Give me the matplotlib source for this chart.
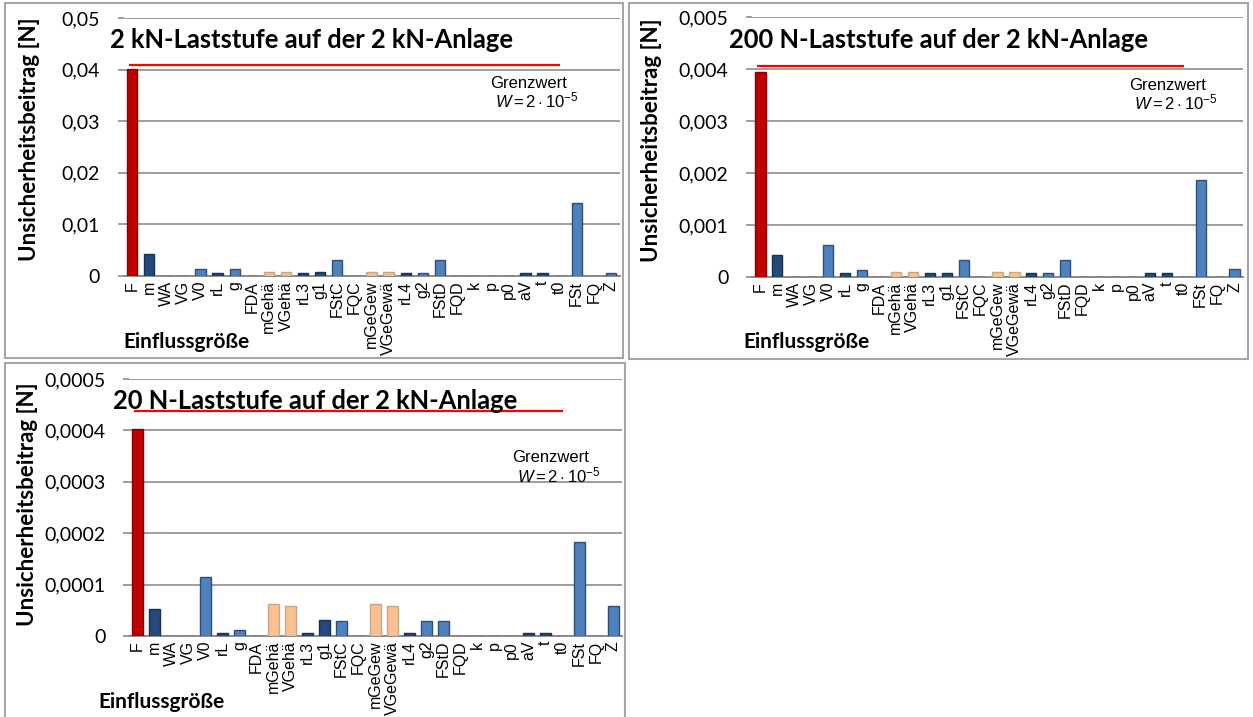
import matplotlib
matplotlib.use("Agg")
import matplotlib.pyplot as plt
from matplotlib.patches import Rectangle
from matplotlib.ticker import FuncFormatter, MultipleLocator

# Einflussgrößen (x-Achse)
categories = ['F', 'm', 'WA', 'VG', 'V0', 'rL', 'g', 'FDA', 'mGehä', 'VGehä',
              'rL3', 'g1', 'FStC', 'FQC', 'mGeGew', 'VGeGewä', 'rL4', 'g2',
              'FStD', 'FQD', 'k', 'p', 'p0', 'aV', 't', 't0', 'FSt', 'FQ', 'Z']
# Farbgruppe je Einflussgröße: r=rot, n=dunkelblau, b=blau, p=pfirsich
groups = ['r', 'n', 'b', 'b', 'b', 'n', 'b', 'b', 'p', 'p',
          'n', 'n', 'b', 'b', 'p', 'p', 'n', 'b',
          'b', 'b', 'b', 'b', 'b', 'n', 'n', 'b', 'b', 'b', 'b']

# Unsicherheitsbeiträge [N]
vals_2kN = [0.0402, 0.0042, 0, 0, 0.0013, 0.0006, 0.0013, 0, 0.0007, 0.0007,
            0.0006, 0.0007, 0.0031, 0, 0.0007, 0.0007, 0.0006, 0.0006,
            0.0031, 0, 0, 0, 0, 0.0006, 0.0006, 0, 0.0141, 0, 0.0006]
vals_200N = [0.00395, 0.00043, 0, 0, 0.00061, 0.00007, 0.00014, 0, 0.0001, 0.0001,
             0.00007, 0.00007, 0.00032, 0, 0.0001, 0.0001, 0.00007, 0.00007,
             0.00032, 0, 0, 0, 0, 0.00007, 0.00007, 0, 0.00187, 0, 0.00015]
vals_20N = [0.000403, 0.000052, 0, 0, 0.000115, 0.000005, 0.000012, 0, 0.000062, 0.000058,
            0.000005, 0.000031, 0.00003, 0, 0.000062, 0.000058, 0.000005, 0.00003,
            0.00003, 0, 0, 0, 0, 0.000005, 0.000005, 0, 0.000183, 0, 0.000058]

titles = ['2 kN-Laststufe auf der 2 kN-Anlage',
          '200 N-Laststufe auf der 2 kN-Anlage',
          '20 N-Laststufe auf der 2 kN-Anlage']
y_max = [0.05, 0.005, 0.0005]
y_step = [0.01, 0.001, 0.0001]
decimals = [2, 3, 4]
# rote Linie (Grenzwert)
limit_vals = [0.0409, 0.00406, 0.000438]
limit_span = (-0.2, 25.0)

face = {'r': '#C00000', 'n': '#25497A', 'b': '#4F81BD', 'p': '#FAC090'}
edge = {'r': '#8A0000', 'n': '#17324F', 'b': '#2E4F78', 'p': '#C4A88C'}

W, H = 1253, 717
plt.rcParams['mathtext.fontset'] = 'custom'
plt.rcParams['mathtext.rm'] = 'Liberation Sans'
plt.rcParams['mathtext.it'] = 'Liberation Sans:italic'

fig = plt.figure(figsize=(W / 100, H / 100), dpi=100)


def fx(px):
    return px / W


def fy(py):
    return 1 - py / H


# Panel-Layout in Pixeln: Achsen (links, oben, rechts, unten), Rahmen, Texte
panels = [
    dict(ax=(123.5, 18, 619.5, 276), box=(5, 3, 623, 358), title=(110, 48),
         ylab=(30, 139), xlab=(123, 342), grenz=(490, 83)),
    dict(ax=(752, 17, 1243, 277), box=(629, 3, 1248, 359), title=(729, 48),
         ylab=(652, 140), xlab=(743, 342), grenz=(1129, 85)),
    dict(ax=(129, 379, 622, 636), box=(5, 363, 625, 722), title=(113, 409),
         ylab=(28, 504), xlab=(98, 702), grenz=(512, 458)),
]
all_vals = [vals_2kN, vals_200N, vals_20N]

for i, (pan, vals) in enumerate(zip(panels, all_vals)):
    l, t, r, b = pan['ax']
    ax = fig.add_axes([fx(l), fy(b), (r - l) / W, (b - t) / H])
    x = range(len(categories))
    ax.bar(x, vals, width=0.6, color=[face[g] for g in groups],
           edgecolor=[edge[g] for g in groups], linewidth=1.0, zorder=3)
    ax.hlines(limit_vals[i], limit_span[0], limit_span[1], color='#FF0000',
              linewidth=1.6, zorder=4)
    ax.set_xlim(-0.5, len(categories) - 0.5)
    ax.set_ylim(0, y_max[i])
    ax.yaxis.set_major_locator(MultipleLocator(y_step[i]))
    d = decimals[i]
    ax.yaxis.set_major_formatter(FuncFormatter(
        lambda v, p, d=d: '0' if abs(v) < 1e-12 else f'{v:.{d}f}'.replace('.', ',')))
    ax.grid(axis='y', color='#8C8C8C', linewidth=1.2, zorder=0)
    for s in ['top', 'right', 'left']:
        ax.spines[s].set_visible(False)
    ax.spines['bottom'].set_color('#8C8C8C')
    ax.spines['bottom'].set_linewidth(1.4)
    ax.set_xticks(list(x))
    ax.set_xticklabels(categories, rotation=90, fontsize=11.5,
                       family='Liberation Sans', va='top')
    ax.tick_params(axis='x', length=0, pad=3.5)
    ax.tick_params(axis='y', length=4, color='#8C8C8C', width=1.2, pad=13,
                   labelsize=14)
    for lab in ax.get_yticklabels():
        lab.set_family('Lato')

    # Rahmen
    bl, bt, br, bb = pan['box']
    fig.add_artist(Rectangle((fx(bl), fy(bb)), (br - bl) / W, (bb - bt) / H,
                             transform=fig.transFigure, fill=False,
                             edgecolor='#A6A6A6', linewidth=1.5))

    tx, ty = pan['title']
    fig.text(fx(tx), fy(ty), titles[i], fontsize=18.4, fontweight='bold',
             family='Lato', va='baseline', ha='left')
    yx, yy = pan['ylab']
    fig.text(fx(yx), fy(yy), 'Unsicherheitsbeitrag [N]', rotation=90,
             fontsize=16, fontweight='bold', family='Lato',
             ha='center', va='center')
    xx, xy = pan['xlab']
    fig.text(fx(xx), fy(xy), 'Einflussgröße', fontsize=15, fontweight='bold',
             family='Lato', ha='left', va='center')
    gx, gy = pan['grenz']
    fig.text(fx(gx), fy(gy), 'Grenzwert', fontsize=12,
             family='Liberation Sans', ha='left', va='center')
    fig.text(fx(gx + 5), fy(gy + 18), r'$W = 2\cdot10^{-5}$', fontsize=12,
             ha='left', va='center')

fig.savefig('out.png', dpi=100)
